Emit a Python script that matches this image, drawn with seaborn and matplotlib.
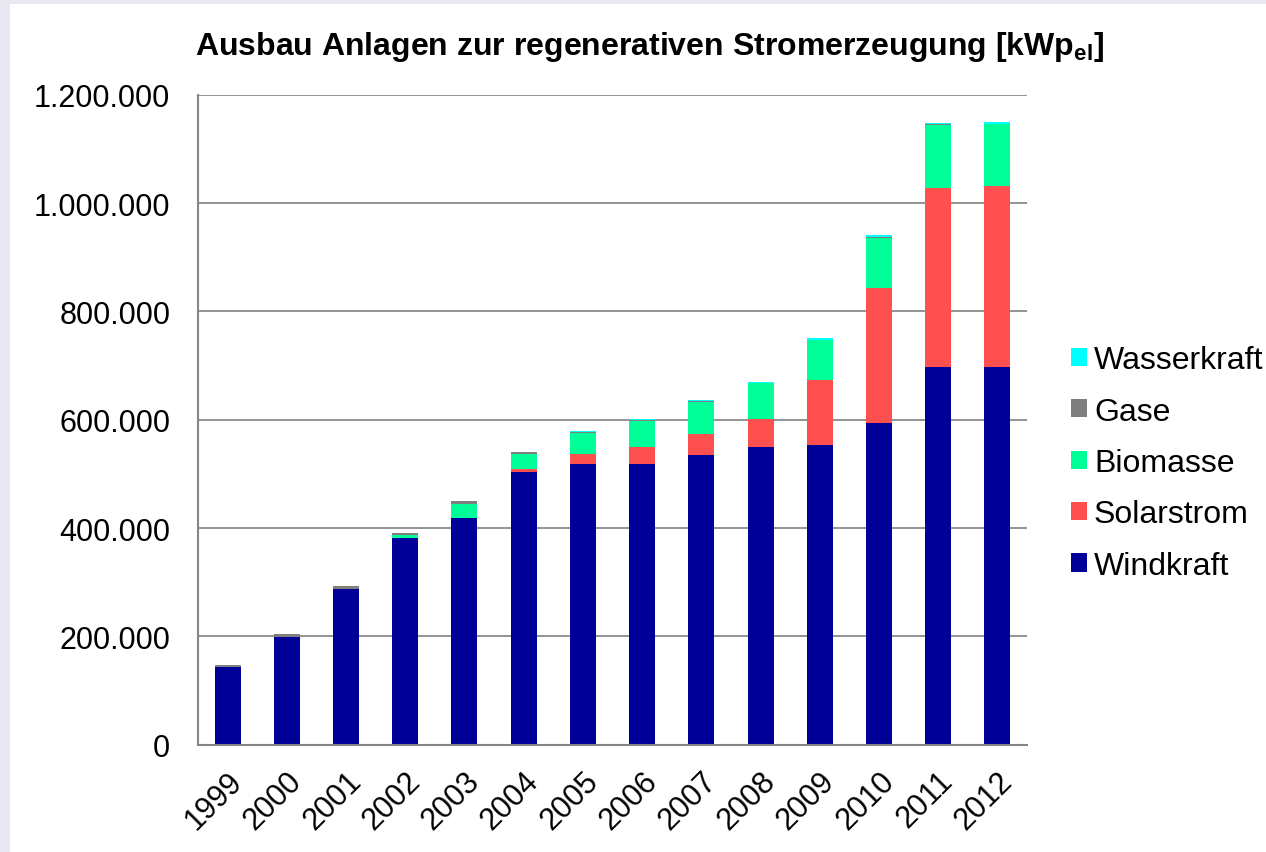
import matplotlib
matplotlib.use("Agg")
import matplotlib.pyplot as plt
from matplotlib.patches import Patch, Rectangle
from matplotlib.ticker import FuncFormatter, FixedLocator
import seaborn as sns
import pandas as pd

# values in kWp_el
years = ["1999", "2000", "2001", "2002", "2003", "2004", "2005",
         "2006", "2007", "2008", "2009", "2010", "2011", "2012"]
windkraft = [143000, 198000, 287000, 381000, 418000, 503000, 519000,
             519000, 535000, 550000, 554000, 594000, 698000, 698000]
solarstrom = [0, 0, 0, 0, 0, 6000, 18000, 30000, 39000, 52000, 120000,
              249000, 330000, 333000]
biomasse = [0, 1000, 1000, 6500, 27000, 27000, 38000, 49000, 59000,
            65000, 73000, 93000, 116000, 114000]
gase = [4000, 4500, 5500, 3000, 5000, 5000, 1500, 1500, 1500, 1500,
        1000, 1000, 1000, 1000]
wasserkraft = [0, 0, 0, 0, 0, 0, 2000, 2000, 2000, 2000, 2000, 4000,
               3000, 3500]

series = ["Windkraft", "Solarstrom", "Biomasse", "Gase", "Wasserkraft"]
colors = {"Windkraft": "#000099", "Solarstrom": "#FF5050",
          "Biomasse": "#00FF99", "Gase": "#7F7F7F", "Wasserkraft": "#00FFFF"}

df = pd.DataFrame({"Jahr": years, "Windkraft": windkraft,
                   "Solarstrom": solarstrom, "Biomasse": biomasse,
                   "Gase": gase, "Wasserkraft": wasserkraft})
cum = df[series].cumsum(axis=1)
cum["Jahr"] = df["Jahr"]

sns.set_style("white")
plt.rcParams["font.family"] = ["Liberation Sans", "DejaVu Sans"]
plt.rcParams["text.color"] = "black"
plt.rcParams["xtick.color"] = "black"
plt.rcParams["ytick.color"] = "black"
plt.rcParams["mathtext.fontset"] = "custom"
plt.rcParams["mathtext.rm"] = "Liberation Sans"
plt.rcParams["mathtext.bf"] = "Liberation Sans:bold"

fig = plt.figure(figsize=(12.66, 8.53), dpi=100, facecolor="#E8E8F2")
fig.patches.append(Rectangle((10 / 1266, 0), 1, 1 - 5 / 853,
                             transform=fig.transFigure, facecolor="white",
                             edgecolor="none", zorder=-10))
ax = fig.add_axes([198 / 1266, 1 - 745.7 / 853, 829 / 1266, 650 / 853])
ax.set_facecolor("none")

# stacked bars: draw cumulative totals from top series downwards
for name in reversed(series):
    sns.barplot(data=cum, x="Jahr", y=name, order=years, color=colors[name],
                saturation=1, width=0.44, linewidth=0, ax=ax)

ax.set_ylim(0, 1200000)
ax.set_xlim(-0.5, len(years) - 0.5)
ax.set_yticks(range(0, 1200001, 200000))
ax.yaxis.set_major_formatter(FuncFormatter(lambda v, p: f"{int(v):,}".replace(",", ".")))
ax.set_xlabel("")
ax.set_ylabel("")

# category ticks at bar boundaries, labels at centres
ax.xaxis.set_major_locator(FixedLocator([i - 0.5 for i in range(len(years) + 1)]))
ax.xaxis.set_minor_locator(FixedLocator(list(range(len(years)))))
ax.set_xticklabels([""] * (len(years) + 1))
ax.set_xticklabels(years, minor=True, rotation=45, ha="right",
                   rotation_mode="anchor")
ax.tick_params(axis="x", which="major", length=8, width=1.5, color="#868686")
ax.tick_params(axis="x", which="minor", length=0, pad=15, labelsize=22)
ax.tick_params(axis="y", length=10, width=1.5, color="#868686", labelsize=22, pad=10)

ax.grid(axis="y", color="#8A8A8A", linewidth=1.3)
ax.set_axisbelow(True)
for s in ["top", "right"]:
    ax.spines[s].set_visible(False)
for s in ["left", "bottom"]:
    ax.spines[s].set_color("#868686")
    ax.spines[s].set_linewidth(1.5)

handles = [Patch(facecolor=colors[n], edgecolor="none", label=n)
           for n in reversed(series)]
fig.legend(handles=handles, loc="center left",
           bbox_to_anchor=(1071 / 1266, 1 - 464 / 853), frameon=False,
           fontsize=23, handlelength=0.5, handleheight=0.5,
           handletextpad=0.22, labelspacing=0.67, borderpad=0,
           borderaxespad=0)

fig.text(650 / 1266, 1 - 47 / 853,
         r"Ausbau Anlagen zur regenerativen Stromerzeugung [kWp$_{\mathbf{el}}$]",
         ha="center", va="center", fontsize=23, fontweight="bold")

fig.savefig("out.png", dpi=100, facecolor=fig.get_facecolor())
